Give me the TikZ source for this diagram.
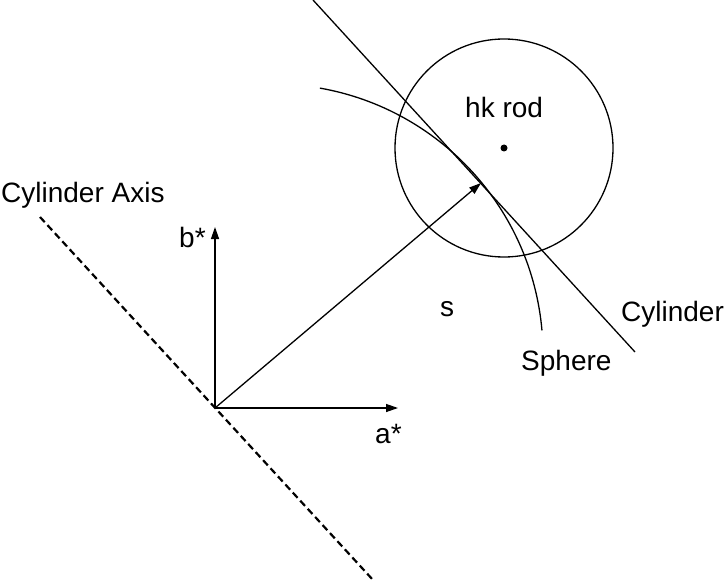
\documentclass[tikz,border=0pt]{standalone}
\usepackage{fontspec}
\setmainfont{Liberation Sans}
\usetikzlibrary{arrows.meta,calc}

\tikzset{
  vec/.style={line width=1.3pt,-{Triangle[length=12pt,width=8pt]}},
  thin line/.style={line width=1.3pt},
  axis line/.style={line width=2.2pt,dash pattern=on 7pt off 4pt},
  lbl/.style={inner sep=0pt,anchor=base west,font=\fontsize{28}{33}\selectfont}
}

\begin{document}
\begin{tikzpicture}[x=1pt,y=1pt]
      \useasboundingbox (0,0) rectangle (727,582);

      \coordinate (o) at (215,174);
      \coordinate (a-tip) at (398,174);
      \coordinate (b-tip) at (215,355);
      \coordinate (s-tip) at (481,399);
      \coordinate (rod) at (504,434);
      \coordinate (sphere-c) at (273,228);
      \coordinate (cyl-top) at (313,582);
      \coordinate (cyl-end) at (635,230);
      \coordinate (axis-top) at (40,365);
      \coordinate (axis-end) at (373,2);

      \draw[vec] (o) -- (a-tip);
      \draw[vec] (o) -- (b-tip);
      \draw[vec] (o) -- (s-tip);

      \draw[axis line] (axis-top) -- (axis-end);
      \draw[thin line] (cyl-top) -- (cyl-end);
      \draw[thin line] ($(sphere-c)+(80:270)$) arc[start angle=80,end angle=5,radius=270];
      \draw[thin line] (rod) circle (109);
      \fill (rod) circle (3.5);

      \node[lbl](axis-lbl) at (1,380) {Cylinder Axis};
      \node[lbl](b-lbl) at (179,335) {b*};
      \node[lbl](a-lbl) at (375,139) {a*};
      \node[lbl](s-lbl) at (440,266) {s};
      \node[lbl](cyl-lbl) at (621,261) {Cylinder};
      \node[lbl](sphere-lbl) at (521,212) {Sphere};
      \node[lbl](rod-lbl) at (465,464) {hk rod};
\end{tikzpicture}
\end{document}
